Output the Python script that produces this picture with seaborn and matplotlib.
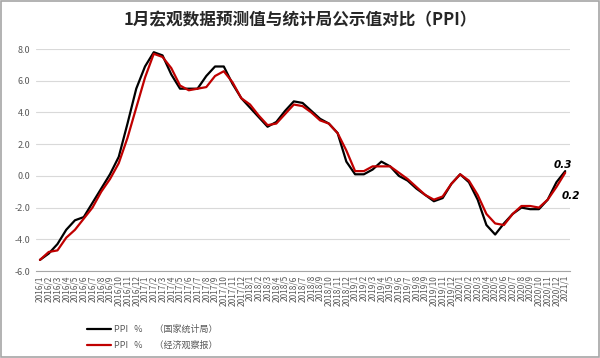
import pandas as pd
import numpy as np
import matplotlib
matplotlib.use('Agg')
import matplotlib.pyplot as plt
import seaborn as sns
from matplotlib.patches import Rectangle

#%% data
months = [f'{y}/{m}' for y in range(2016, 2021) for m in range(1, 13)] + ['2021/1']

ppi_nbs = [-5.3, -4.9, -4.3, -3.4, -2.8, -2.6, -1.7, -0.8, 0.1, 1.2, 3.3, 5.5,
           6.9, 7.8, 7.6, 6.4, 5.5, 5.5, 5.5, 6.3, 6.9, 6.9, 5.8, 4.9,
           4.3, 3.7, 3.1, 3.4, 4.1, 4.7, 4.6, 4.1, 3.6, 3.3, 2.7, 0.9,
           0.1, 0.1, 0.4, 0.9, 0.6, 0.0, -0.3, -0.8, -1.2, -1.6, -1.4, -0.5,
           0.1, -0.4, -1.5, -3.1, -3.7, -3.0, -2.4, -2.0, -2.1, -2.1, -1.5, -0.4,
           0.3]

ppi_eo = [-5.3, -4.8, -4.7, -3.9, -3.4, -2.7, -2.0, -1.0, -0.2, 0.8, 2.4, 4.3,
          6.2, 7.7, 7.5, 6.8, 5.7, 5.4, 5.5, 5.6, 6.3, 6.6, 5.9, 4.9,
          4.5, 3.8, 3.2, 3.3, 3.9, 4.5, 4.4, 4.0, 3.5, 3.3, 2.7, 1.6,
          0.3, 0.3, 0.6, 0.6, 0.6, 0.2, -0.2, -0.7, -1.2, -1.5, -1.3, -0.5,
          0.1, -0.3, -1.2, -2.4, -3.0, -3.1, -2.4, -1.9, -1.9, -2.0, -1.5, -0.7,
          0.2]

label_nbs = 'PPI   %      （国家统计局）'
label_eo = 'PPI   %      （经济观察报）'

df = pd.DataFrame({
    'month': months * 2,
    'idx': list(range(len(months))) * 2,
    'value': ppi_nbs + ppi_eo,
    'source': [label_nbs] * len(months) + [label_eo] * len(months),
})

#%% plot
sns.set_theme(style='white')
plt.rcParams['font.family'] = ['Noto Sans CJK SC', 'DejaVu Sans']

fig = plt.figure(figsize=(6, 3.58), dpi=100)
ax = fig.add_axes([0.0593, 0.243, 0.89, 0.620])

sns.lineplot(data=df, x='idx', y='value', hue='source',
             palette={label_nbs: 'black', label_eo: '#C00000'},
             linewidth=1.6, ax=ax)

ax.set_xlim(-0.5, len(months) - 0.5)
ax.set_ylim(-6, 8)
ax.set_yticks(np.arange(-6, 8.1, 2))
ax.set_yticklabels([f'{v:.1f}' for v in np.arange(-6, 8.1, 2)], fontsize=6.5, color='#595959')
ax.yaxis.grid(True, color='#D9D9D9', linewidth=0.8)
ax.set_axisbelow(True)

ax.set_xticks(range(len(months)))
ax.set_xticklabels(months, rotation=90, fontsize=6, color='#595959')
ax.set_xticks(np.arange(-0.5, len(months), 1), minor=True)
ax.tick_params(axis='x', which='major', length=0, pad=3)
ax.tick_params(axis='x', which='minor', length=3, color='#A6A6A6', width=0.6)
ax.tick_params(axis='y', length=0, pad=4)
ax.set_xlabel('')
ax.set_ylabel('')

for s in ['top', 'right', 'left']:
    ax.spines[s].set_visible(False)
ax.spines['bottom'].set_color('#A6A6A6')
ax.spines['bottom'].set_linewidth(0.8)

# end-point labels
last = len(months) - 1
ax.annotate(f'{ppi_nbs[-1]:.1f}', (last, ppi_nbs[-1]), xytext=(-2, 1),
            textcoords='offset pixels', ha='center', va='bottom', family=['DejaVu Sans'],
            fontsize=7.5, fontweight='bold', fontstyle='italic', color='black')
ax.annotate(f'{ppi_eo[-1]:.1f}', (last, ppi_eo[-1]), xytext=(6, -23),
            textcoords='offset pixels', ha='center', va='center', family=['DejaVu Sans'],
            fontsize=7.5, fontweight='bold', fontstyle='italic', color='black')

ax.legend(loc='upper left', bbox_to_anchor=(0.132, 0.115), bbox_transform=fig.transFigure,
          frameon=False, fontsize=6.5, handlelength=2.6, handletextpad=0.3,
          labelspacing=0.75, labelcolor='#595959')

fig.text(0.5, 0.944, '1月宏观数据预测值与统计局公示值对比（PPI）',
         ha='center', va='center', fontsize=12, fontweight='bold')

fig.patches.append(Rectangle((0.001, 0.002), 0.997, 0.996, transform=fig.transFigure,
                             fill=False, edgecolor='#A6A6A6', linewidth=1.2))

fig.savefig('out.png', dpi=100)
